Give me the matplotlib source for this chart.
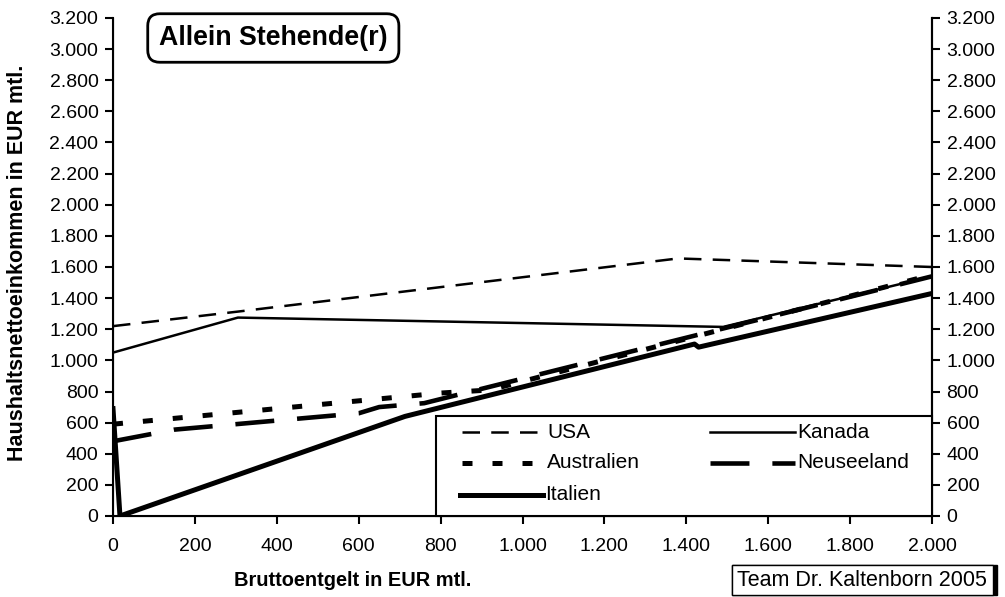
import numpy as np
import matplotlib.pyplot as plt
from matplotlib.patches import Rectangle
from matplotlib.lines import Line2D

plt.rcParams['font.family'] = ['Liberation Sans', 'DejaVu Sans']

# data (EUR per month)
usa_x = [0, 310, 1380, 2000]
usa_y = [1220, 1315, 1655, 1600]

kanada_x = [0, 305, 1490, 2000]
kanada_y = [1050, 1275, 1215, 1540]

aus_x = [0, 800, 920, 2000]
aus_y = [590, 790, 810, 1550]

nz_x = [0, 150, 600, 650, 760, 2000]
nz_y = [480, 555, 660, 700, 725, 1540]

ita_x = [0, 17, 713, 766, 1420, 1430, 2000]
ita_y = [690, 0, 640, 675, 1105, 1085, 1430]

yticks = np.arange(0, 3201, 200)
xticks = np.arange(0, 2001, 200)


def fmt(v):
    return '{:,}'.format(int(v)).replace(',', '.')


W, H = 1005, 597


def fx(px):
    return px / W


def fy(py):
    return 1 - py / H


fig = plt.figure(figsize=(W / 100, H / 100), dpi=100)
ax = fig.add_axes([fx(113), fy(516), 819 / W, 498 / H])

styles = {
    'USA': dict(lw=1.8, dashes=(7, 4.5)),
    'Kanada': dict(lw=1.8),
    'Australien': dict(lw=3.6, dashes=(2, 4), dash_capstyle='butt'),
    'Neuseeland': dict(lw=3.3, dashes=(8.5, 5)),
    'Italien': dict(lw=3.6),
}

ax.plot(usa_x, usa_y, color='black', **styles['USA'])
ax.plot(kanada_x, kanada_y, color='black', **styles['Kanada'])
ax.plot(aus_x, aus_y, color='black', **styles['Australien'])
ax.plot(nz_x, nz_y, color='black', **styles['Neuseeland'])
ax.plot(ita_x, ita_y, color='black', **styles['Italien'])

ax.set_xlim(0, 2000)
ax.set_ylim(0, 3200)
ax.set_xticks(xticks)
ax.set_xticklabels([fmt(v) for v in xticks])
ax.set_yticks(yticks)
ax.set_yticklabels([fmt(v) for v in yticks])
ax.spines['top'].set_visible(False)
for s in ['left', 'bottom', 'right']:
    ax.spines[s].set_linewidth(1.5)
ax.tick_params(direction='out', length=5.5, width=1.5, labelsize=14, pad=5)
ax.tick_params(axis='x', pad=10)

ax2 = ax.twinx()
ax2.set_ylim(0, 3200)
ax2.set_yticks(yticks)
ax2.set_yticklabels([fmt(v) for v in yticks])
ax2.spines['top'].set_visible(False)
ax2.spines['right'].set_linewidth(1.5)
ax2.tick_params(direction='out', length=5.5, width=1.5, labelsize=14, pad=5)

# legend, laid out like the Excel original
fig.add_artist(Rectangle((fx(436), fy(516)), (932 - 436) / W, 100 / H,
                         transform=fig.transFigure, fc='white', ec='black',
                         lw=1.5, zorder=5))
legend_items = [
    ('USA', 462, 537, 547, 432),
    ('Australien', 462, 537, 547, 463),
    ('Italien', 460, 543, 545, 495),
    ('Kanada', 710, 795, 797, 432),
    ('Neuseeland', 710, 795, 797, 463),
]
for name, x0, x1, xt, yc in legend_items:
    fig.add_artist(Line2D([fx(x0), fx(x1)], [fy(yc), fy(yc)],
                          transform=fig.transFigure, color='black',
                          zorder=6, **styles[name]))
    fig.text(fx(xt), fy(yc), name, fontsize=15, ha='left', va='center',
             zorder=6)

fig.text(fx(159), fy(38), 'Allein Stehende(r)', fontsize=19.3,
         fontweight='bold', va='center', ha='left',
         bbox=dict(boxstyle='round,pad=0.42,rounding_size=0.45',
                   fc='white', ec='black', lw=2))

fig.text(fx(18), fy(263), 'Haushaltsnettoeinkommen in EUR mtl.',
         fontsize=15.5, fontweight='bold', rotation=90,
         ha='center', va='center')
fig.text(fx(353), fy(580), 'Bruttoentgelt in EUR mtl.',
         fontsize=14.4, fontweight='bold', ha='center', va='center')

fig.patches.append(Rectangle((fx(732), fy(595)), 265 / W, 30 / H,
                             transform=fig.transFigure, fc='black', ec='black'))
fig.patches.append(Rectangle((fx(732), fy(595)), 261 / W, 30 / H,
                             transform=fig.transFigure, fc='white', ec='black', lw=1))
fig.text(fx(862), fy(580), 'Team Dr. Kaltenborn 2005', fontsize=15.5,
         ha='center', va='center')

fig.savefig('out.png', dpi=100)
